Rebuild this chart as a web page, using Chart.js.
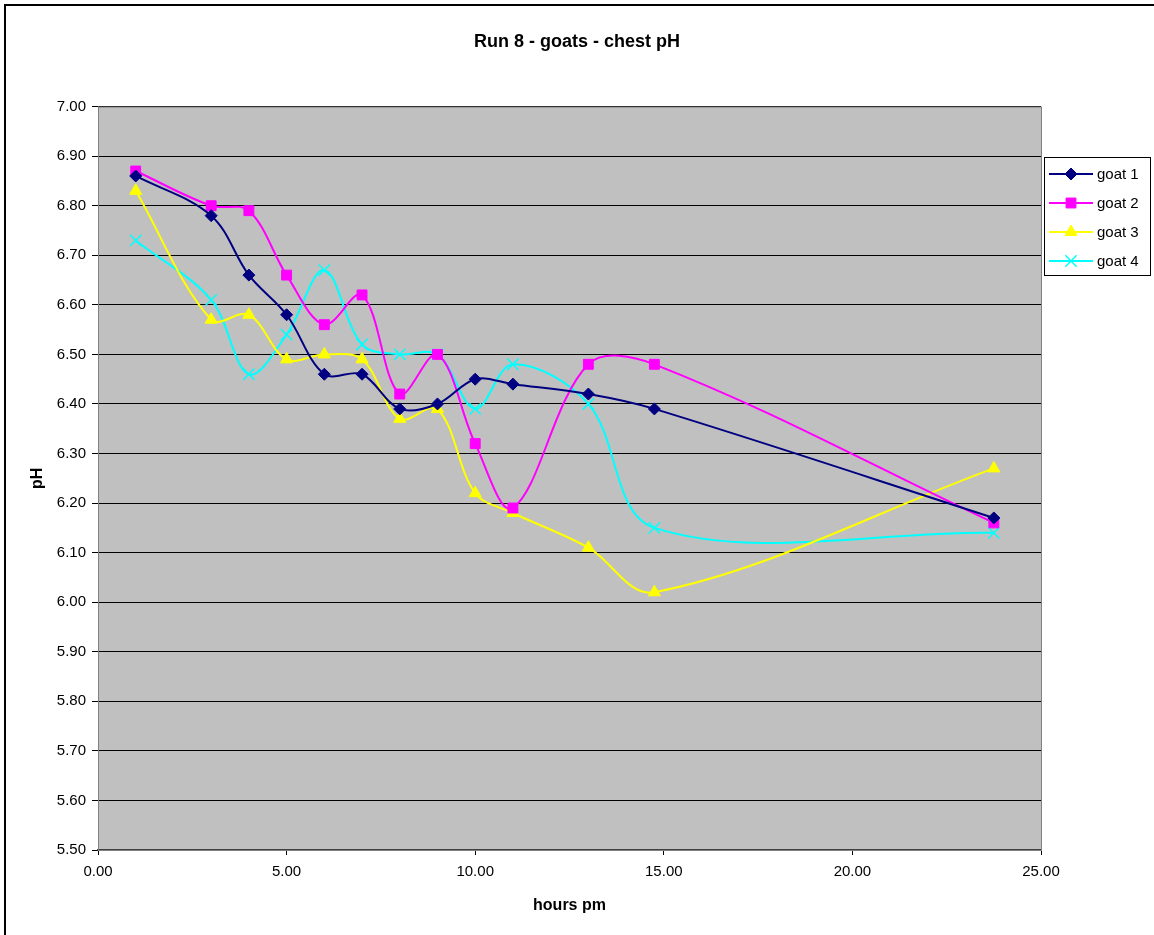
<!DOCTYPE html>
<html>
<head>
<meta charset="utf-8">
<script src="https://cdn.jsdelivr.net/npm/chart.js@4"></script>
<style>
  html, body { margin: 0; padding: 0; background: #fff; }
  #wrap { width: 1154px; height: 935px; }
</style>
</head>
<body>
<div id="wrap"><canvas id="chart" width="1154" height="935"></canvas></div>
<script>
// hours pm
const hours = [1, 3, 4, 5, 6, 7, 8, 9, 10, 11, 13, 14.75, 23.75];
const goat1 = [6.86, 6.78, 6.66, 6.58, 6.46, 6.46, 6.39, 6.40, 6.45, 6.44, 6.42, 6.39, 6.17];
const goat2 = [6.87, 6.80, 6.79, 6.66, 6.56, 6.62, 6.42, 6.50, 6.32, 6.19, 6.48, 6.48, 6.16];
const goat3 = [6.83, 6.57, 6.58, 6.49, 6.50, 6.49, 6.37, 6.39, 6.22, 6.18, 6.11, 6.02, 6.27];
const goat4 = [6.73, 6.61, 6.46, 6.54, 6.67, 6.52, 6.50, 6.50, 6.39, 6.48, 6.40, 6.15, 6.14];
const seriesNames = ['goat 1', 'goat 2', 'goat 3', 'goat 4'];

const FONT = 'Arial, "Liberation Sans", sans-serif';
const pts = (ys) => ys.map((y, i) => ({x: hours[i], y: y}));

function makeSet(label, ys, color, style, radius) {
  return {
    label: label,
    data: pts(ys),
    showLine: true,
    borderColor: color,
    backgroundColor: color,
    borderWidth: 2,
    tension: 0.35,
    pointStyle: style,
    pointRadius: radius,
    pointHoverRadius: radius,
    pointBorderColor: color,
    pointBackgroundColor: color,
    pointBorderWidth: style === 'crossRot' ? 1.5 : 1
  };
}

// grey plot area, outer frame and the boxed legend on the right
const excelLook = {
  id: 'excelLook',
  beforeDraw(chart) {
    const {ctx, chartArea: a} = chart;
    ctx.save();
    ctx.fillStyle = '#fff';
    ctx.fillRect(0, 0, chart.width, chart.height);
    ctx.fillStyle = '#C0C0C0';
    ctx.fillRect(a.left, a.top, a.right - a.left, a.bottom - a.top);
    ctx.restore();
  },
  afterDraw(chart) {
    const {ctx, chartArea: a} = chart;
    ctx.save();
    ctx.strokeStyle = '#808080';
    ctx.lineWidth = 1;
    ctx.strokeRect(a.left + 0.5, a.top + 0.5, a.right - a.left, a.bottom - a.top);
    // frame
    ctx.strokeStyle = '#000';
    ctx.lineWidth = 2;
    ctx.beginPath();
    ctx.moveTo(5, chart.height);
    ctx.lineTo(5, 5);
    ctx.lineTo(chart.width, 5);
    ctx.stroke();
    // legend
    const bx = 1044, by = 157, bw = 106, bh = 118;
    ctx.fillStyle = '#fff';
    ctx.fillRect(bx, by, bw, bh);
    ctx.strokeStyle = '#000';
    ctx.lineWidth = 1;
    ctx.strokeRect(bx + 0.5, by + 0.5, bw, bh);
    ctx.font = '15px ' + FONT;
    ctx.textBaseline = 'middle';
    chart.data.datasets.forEach((ds, i) => {
      const y = by + 17 + i * 29;
      ctx.strokeStyle = ds.borderColor;
      ctx.lineWidth = 2;
      ctx.beginPath();
      ctx.moveTo(bx + 5, y);
      ctx.lineTo(bx + 49, y);
      ctx.stroke();
      ctx.fillStyle = ds.backgroundColor;
      ctx.lineWidth = ds.pointBorderWidth;
      Chart.helpers.drawPoint(ctx, {pointStyle: ds.pointStyle, radius: ds.pointRadius, borderWidth: ds.pointBorderWidth}, bx + 27, y);
      ctx.fillStyle = '#000';
      ctx.fillText(seriesNames[i], bx + 53, y + 1);
    });
    ctx.restore();
  }
};

new Chart(document.getElementById('chart'), {
  type: 'scatter',
  data: {
    datasets: [
      makeSet(seriesNames[0], goat1, '#000080', 'rectRot', 6),
      makeSet(seriesNames[1], goat2, '#FF00FF', 'rect', 7),
      makeSet(seriesNames[2], goat3, '#FFFF00', 'triangle', 7),
      makeSet(seriesNames[3], goat4, '#00FFFF', 'crossRot', 8)
    ]
  },
  options: {
    responsive: false,
    animation: false,
    layout: { padding: 0 },
    plugins: {
      legend: { display: false },
      tooltip: { enabled: false },
      title: {
        display: true,
        text: 'Run 8 - goats - chest pH',
        color: '#000',
        font: { family: FONT, size: 18, weight: 'bold' },
        padding: { top: 31, bottom: 54 }
      }
    },
    scales: {
      x: {
        type: 'linear',
        min: 0,
        max: 25,
        afterFit(s) { s.height = 85; },
        ticks: {
          stepSize: 5,
          padding: 8,
          color: '#000',
          font: { family: FONT, size: 15 },
          callback: (v) => v.toFixed(2),
          maxRotation: 0
        },
        grid: { drawOnChartArea: false, color: '#000', tickLength: 5 },
        border: { color: '#404040', width: 1.5 },
        title: {
          display: true,
          text: 'hours pm',
          color: '#000',
          font: { family: FONT, size: 16, weight: 'bold' },
          padding: { bottom: 20 }
        }
      },
      y: {
        min: 5.5,
        max: 7.0,
        afterFit(s) { s.width = 98; },
        ticks: {
          stepSize: 0.1,
          padding: 6,
          color: '#000',
          font: { family: FONT, size: 15 },
          callback: (v) => v.toFixed(2)
        },
        grid: { color: '#000', lineWidth: 1, tickLength: 6 },
        border: { color: '#404040', width: 1 },
        title: {
          display: true,
          text: 'pH',
          color: '#000',
          font: { family: FONT, size: 16, weight: 'bold' },
          padding: { top: 28 }
        }
      },
      // empty strip on the right that leaves room for the legend box
      spacer: {
        type: 'linear',
        position: 'right',
        display: true,
        afterFit(s) { s.width = 113; },
        ticks: { display: false },
        grid: { display: false, drawTicks: false },
        border: { display: false }
      }
    }
  },
  plugins: [excelLook]
});
</script>
</body>
</html>
